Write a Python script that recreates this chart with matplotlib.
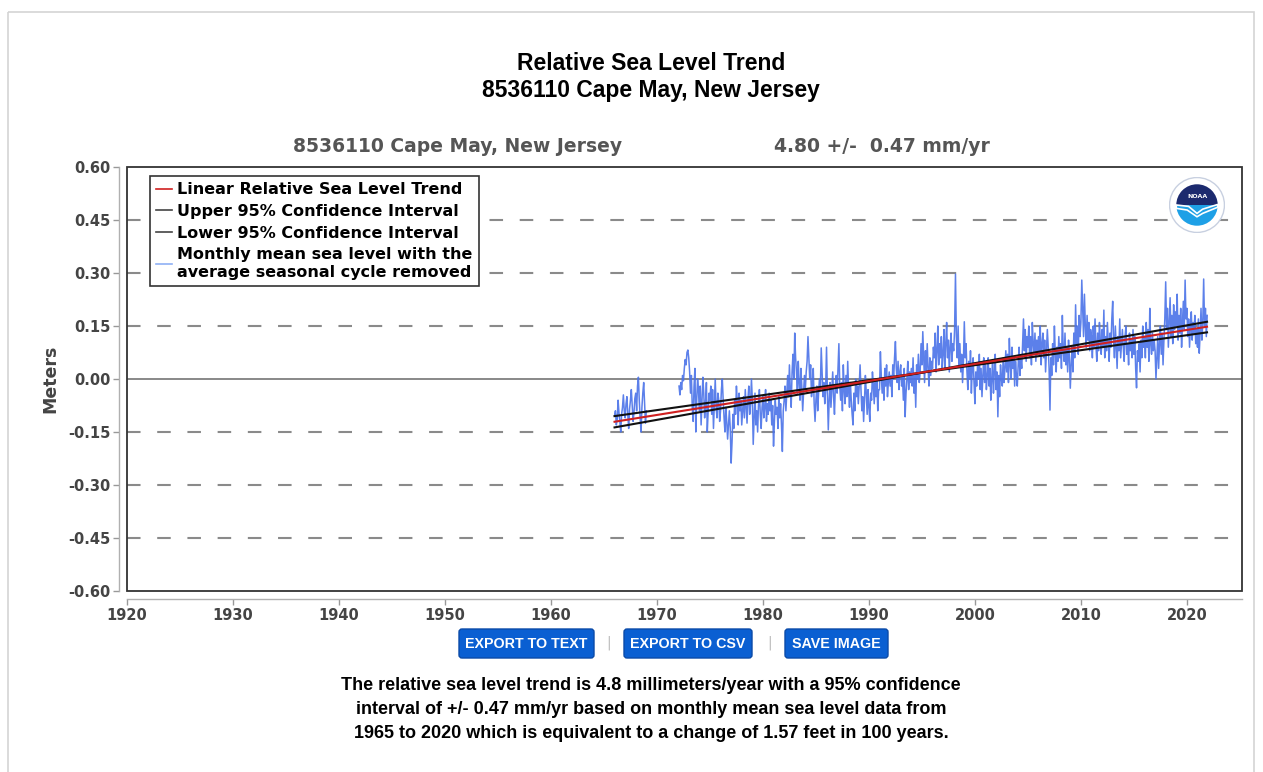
#!/usr/bin/env python3
"""Relative sea level trend, 8536110 Cape May, New Jersey (NOAA style)."""

import matplotlib
matplotlib.use("Agg")
import matplotlib.pyplot as plt
import numpy as np
from matplotlib.patches import Rectangle, FancyBboxPatch, Circle, Wedge, Polygon

W, H = 1263, 772
nan = np.nan

# monthly mean sea level, seasonal cycle removed (mm), Jan 1966 .. Dec 2021
msl_start = 1966.0
msl_mm = [
    -105, -90, -130, -115, -60, -95, -120, -150, -100, -80, -45, -90,    # 1966
    -110, -70, -50, -100, -140, -85, -60, -30, -75, -120, -95, -55,      # 1967
    -40, -90, -20, 5, -60, -110, -150, -80, -40, -10, -70, -125,         # 1968
    -90, nan, nan, nan, nan, nan, nan, nan, nan, nan, nan, nan,          # 1969
    nan, nan, nan, nan, nan, nan, nan, nan, nan, nan, nan, nan,          # 1970
    nan, nan, nan, nan, nan, nan, nan, nan, nan, nan, nan, nan,          # 1971
    nan, -20, -45, -10, -30, 10, -5, 30, 55, 40, 75, 82,                 # 1972
    60, 20, -40, 10, -80, -120, -20, 30, -150, -60, 0, -30,              # 1973
    -90, -20, -130, -60, 5, -40, -110, -70, -10, -150, -90, -40,         # 1974
    -60, -20, -100, -30, -140, -70, 0, -80, -110, -40, -60, -120,        # 1975
    -90, -30, 0, -60, -110, -150, -80, -120, -170, -130, -90, -140,      # 1976
    -238, -180, -100, -140, -60, -100, -20, -70, -130, -40, -90, -60,    # 1977
    -130, -90, -50, -110, -30, -80, -125, -60, -20, -100, -70, 0,        # 1978
    -60, -185, -110, -40, -130, -90, -150, -70, -30, -100, -140, -80,    # 1979
    -50, -110, -80, -30, -120, -70, -100, -40, -90, -60, -130, -75,      # 1980
    -190, -120, -60, -100, -80, -140, -50, -110, -70, -130, -205, -90,   # 1981
    -60, -20, -90, -40, 10, -50, 40, -30, -80, 20, 70, 0,                # 1982
    130, 60, 20, -40, 50, -10, -60, 30, -20, -90, -40, 10,               # 1983
    -30, 20, 50, 120, 60, 0, 40, -50, -20, 30, -70, -120,                # 1984
    -60, -20, -90, -40, 0, -30, 88, 20, -50, -10, -70, -30,              # 1985
    90, -40, -144, -60, -10, -80, -30, 20, -50, -100, -20, 10,           # 1986
    -40, 30, 100, -20, -60, -10, -90, 40, -30, -70, 10, -50,             # 1987
    50, -30, -80, -10, -60, -100, -130, -40, -90, 0, -50, -20,           # 1988
    -70, -20, 40, -30, -90, -50, -120, -60, 10, -40, -100, -30,          # 1989
    -80, -120, -40, -60, 20, -20, -70, -10, -50, 0, -90, -30,            # 1990
    -30, 77, 10, -40, 0, -60, 30, -20, 40, -50, -10, 20,                 # 1991
    -20, 10, -50, 40, 0, 60, 106, 30, -10, 50, -30, 20,                  # 1992
    40, -20, 10, -60, 30, -107, -40, 0, 50, -30, 20, -10,                # 1993
    30, -20, 60, -40, 10, -80, 40, 0, 70, -10, 20, 100,                  # 1994
    40, 134, 60, -10, 80, 20, 100, 30, -20, 60, 10, 50,                  # 1995
    30, 90, 60, 130, 20, 80, 150, 40, 100, 60, 120, 30,                  # 1996
    70, 140, 30, 100, 160, 60, 110, 20, 90, 130, 50, 100,                # 1997
    80, 140, 297, 120, 60, 150, 40, 100, 20, 70, -10, 50,                # 1998
    162, 60, 100, 20, -30, 50, 0, 80, -40, 30, 60, -10,                  # 1999
    -70, 20, -20, 40, 0, 70, -30, 30, -50, 10, 60, -10,                  # 2000
    40, -30, 10, 60, -20, 30, -60, 0, 50, -40, 20, 70,                   # 2001
    -30, 20, -107, 10, -50, 40, 0, -20, 60, -10, 30, 80,                 # 2002
    20, 70, -10, 115, 40, 0, 90, 30, 60, -20, 50, 10,                    # 2003
    -20, 40, 90, 10, 60, 30, 100, 170, 80, 140, 50, 120,                 # 2004
    90, 150, 60, 120, 40, 160, 100, 70, 130, 50, 110, 80,                # 2005
    120, 70, 150, 40, 100, 130, 60, 110, 20, 80, 140, 90,                # 2006
    30, -88, 60, 10, 100, 40, 150, 70, 20, 90, 50, 120,                  # 2007
    60, 100, 30, 180, 80, 50, 130, 40, 90, 20, 110, 60,                  # 2008
    -26, 40, 90, 20, 130, 60, 210, 100, 150, 70, 180, 120,               # 2009
    160, 280, 200, 120, 240, 150, 90, 180, 110, 160, 80, 140,            # 2010
    120, 60, 150, 90, 170, 100, 50, 130, 80, 160, 110, 70,               # 2011
    140, 90, 195, 60, 120, 80, 160, 100, 50, 130, 90, 170,               # 2012
    220, 110, 60, 150, 90, 30, 120, 80, 170, 60, 100, 140,               # 2013
    90, 50, 120, 150, 70, 100, 40, 130, 80, 110, 60, 140,                # 2014
    70, 120, 30, -25, 80, 50, 100, 20, 110, 60, 150, 90,                 # 2015
    120, 60, 160, 90, 140, 50, 200, 100, 70, 130, 80, 110,               # 2016
    80, 0, 60, 120, 30, 100, 150, 70, 130, 40, 110, 170,                 # 2017
    275, 140, 200, 90, 160, 230, 120, 180, 100, 210, 140, 190,           # 2018
    150, 240, 110, 180, 130, 200, 90, 160, 220, 140, 280, 170,           # 2019
    200, 120, 170, 90, 150, 190, 110, 160, 130, 180, 100, 140,           # 2020
    90, 170, 73, 130, 200, 110, 160, 283, 150, 200, 120, 180,            # 2021
]

# trend line and 95% confidence lines (end points, meters)
trend_years = [1966.0, 2021.9]
trend_m = [-0.121, 0.148]
upper_m = [-0.137, 0.162]
lower_m = [-0.105, 0.132]

yticks = [-0.60, -0.45, -0.30, -0.15, 0.00, 0.15, 0.30, 0.45, 0.60]
xticks = list(range(1920, 2021, 10))

DARK = "#444444"

fig = plt.figure(figsize=(W / 100, H / 100), dpi=100)

# full-figure overlay in pixel coords for page furniture
bg = fig.add_axes([0, 0, 1, 1], zorder=-1)
bg.set_xlim(0, W)
bg.set_ylim(H, 0)
bg.axis("off")
bg.add_patch(Rectangle((8, 12), 1246, 770, fill=False, edgecolor="#d4d4d4", lw=1.2))

bg.text(651, 64, "Relative Sea Level Trend", ha="center", va="center",
        family="Liberation Sans", weight="bold", fontsize=16.5)
bg.text(651, 91, "8536110 Cape May, New Jersey", ha="center", va="center",
        family="Liberation Sans", weight="bold", fontsize=16.5)
bg.text(458, 146, "8536110 Cape May, New Jersey", ha="center", va="center",
        weight="bold", fontsize=13.5, color="#555555")
bg.text(882, 146, "4.80 +/-  0.47 mm/yr", ha="center", va="center",
        weight="bold", fontsize=13.5, color="#555555")

# buttons
buttons = [("EXPORT TO TEXT", 459, 594), ("EXPORT TO CSV", 624, 752), ("SAVE IMAGE", 785, 888)]
for label, x0, x1 in buttons:
    bg.add_patch(FancyBboxPatch((x0, 629), x1 - x0, 29,
                                boxstyle="round,pad=0,rounding_size=3",
                                facecolor="#0a5fd2", edgecolor="#0a4aa8", lw=1))
    bg.text((x0 + x1) / 2, 643.5, label, ha="center", va="center", color="white",
            family="Liberation Sans", weight="bold", fontsize=10.3)
for xs in (609, 770):
    bg.text(xs, 643, "|", ha="center", va="center", color="#bbbbbb", fontsize=10)

caption = [
    "The relative sea level trend is 4.8 millimeters/year with a 95% confidence",
    "interval of +/- 0.47 mm/yr based on monthly mean sea level data from",
    "1965 to 2020 which is equivalent to a change of 1.57 feet in 100 years.",
]
for i, line in enumerate(caption):
    bg.text(651, 685 + i * 24.5, line, ha="center", va="center",
            family="Liberation Sans", weight="bold", fontsize=13)

# main plot
ax = fig.add_axes([127 / W, 1 - 591 / H, (1242 - 127) / W, (591 - 167) / H])
t = msl_start + np.arange(len(msl_mm)) / 12.0
msl = np.array(msl_mm, dtype=float) / 1000.0

for yv in yticks[1:-1]:
    if yv == 0:
        ax.axhline(0, color="#888888", lw=1.4, zorder=1)
    else:
        ax.axhline(yv, color="#8a8a8a", lw=1.5, dashes=(6.5, 8), zorder=1)

l_ms, = ax.plot(t, msl, color="#4a72e8", lw=1.1, alpha=0.9, zorder=2,
                label="Monthly mean sea level with the\naverage seasonal cycle removed")
l_up, = ax.plot(trend_years, upper_m, color="#111111", lw=1.5, zorder=3,
                label="Upper 95% Confidence Interval")
l_lo, = ax.plot(trend_years, lower_m, color="#111111", lw=1.5, zorder=3,
                label="Lower 95% Confidence Interval")
l_tr, = ax.plot(trend_years, trend_m, color="#d02020", lw=1.5, zorder=4,
                label="Linear Relative Sea Level Trend")

ax.set_xlim(1920, 2025.2)
ax.set_ylim(-0.60, 0.60)
ax.set_yticks(yticks)
ax.set_yticklabels([f"{v:.2f}" for v in yticks])
ax.set_xticks(xticks)
for side in ("top", "right"):
    ax.spines[side].set_visible(False)
for side in ("left", "bottom"):
    ax.spines[side].set_position(("outward", 6))
    ax.spines[side].set_color("#b0b0b0")
    ax.spines[side].set_linewidth(1.0)
ax.add_patch(Rectangle((0, 0), 1, 1, transform=ax.transAxes, fill=False,
                       edgecolor="#333333", lw=1.3, zorder=6, clip_on=False))
ax.tick_params(length=4, width=1, color="#999999", labelcolor=DARK, labelsize=10.5, pad=2)
for lab in ax.get_xticklabels() + ax.get_yticklabels():
    lab.set_fontweight("bold")
ax.set_ylabel("Meters", fontsize=12.5, weight="bold", color=DARK, labelpad=6)

leg = ax.legend(handles=[l_tr, l_up, l_lo, l_ms], loc="upper left",
                bbox_to_anchor=(0.0206, 0.979),
                frameon=True, fancybox=False, edgecolor="#333333", framealpha=1,
                prop={"weight": "bold", "size": 11.5}, handlelength=1.0,
                handletextpad=0.3, labelspacing=0.42, borderpad=0.4,
                borderaxespad=0)
leg.get_frame().set_linewidth(1.2)
leg.set_zorder(7)
for h, c in zip(leg.get_lines(), ["#d02020", "#444444", "#444444", "#8fb0f5"]):
    h.set_color(c)
    h.set_linewidth(1.2)
    h.set_alpha(1)

# NOAA logo
lg = fig.add_axes([1169 / W, 1 - 233 / H, 56 / W, 56 / H])
lg.set_xlim(-1, 1)
lg.set_ylim(-1, 1)
lg.set_aspect("equal")
lg.axis("off")
lg.add_patch(Circle((0, 0), 0.98, facecolor="white", edgecolor="#c8d0e0", lw=1))
lg.add_patch(Wedge((0, 0), 0.74, 0, 180, facecolor="#1c2a6e"))
lg.add_patch(Wedge((0, 0), 0.74, 180, 360, facecolor="#1ea0e6"))
lg.add_patch(Polygon([[-0.74, 0.0], [-0.3, -0.05], [0.0, -0.3], [0.2, -0.15],
                      [0.74, 0.02], [0.74, -0.08], [0.2, -0.3], [0.0, -0.42],
                      [-0.35, -0.18], [-0.74, -0.12]], closed=True,
                     facecolor="#1ea0e6", edgecolor="white", lw=1.2))
lg.text(0, 0.32, "NOAA", ha="center", va="center", color="white",
        fontsize=4.5, weight="bold")

fig.savefig("out.png", dpi=100)
